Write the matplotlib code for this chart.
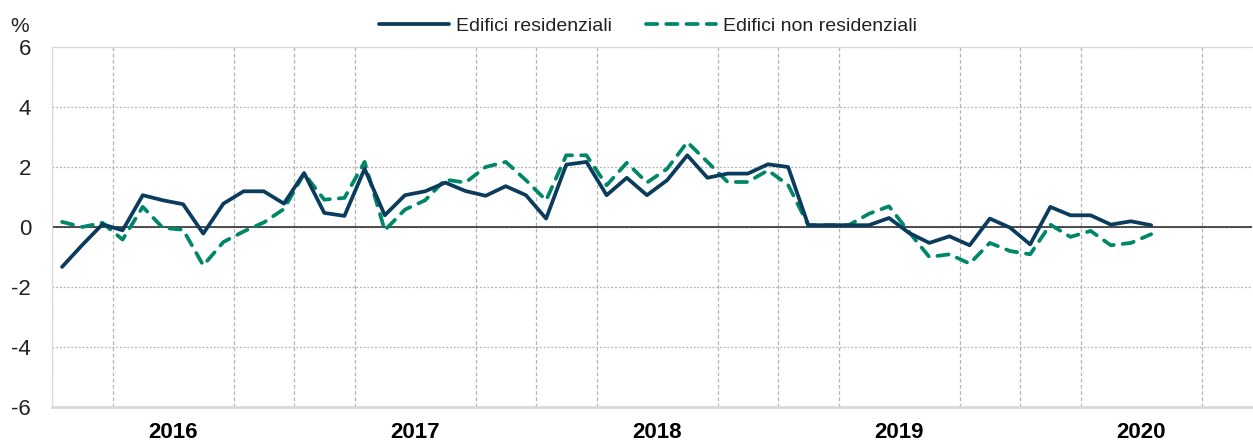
import matplotlib
matplotlib.use("Agg")
from matplotlib import pyplot as plt
from matplotlib.ticker import FixedLocator
import numpy as np

# monthly values, Jan 2016 .. Jul 2020
residenziali = [-1.33, -0.6, 0.09, -0.11, 1.06, 0.89, 0.76, -0.22, 0.78, 1.19, 1.19, 0.78,
                1.8, 0.47, 0.37, 1.94, 0.39, 1.06, 1.19, 1.48, 1.2, 1.04, 1.36, 1.06,
                0.28, 2.08, 2.17, 1.06, 1.64, 1.06, 1.56, 2.39, 1.64, 1.78, 1.78, 2.09,
                2.0, 0.06, 0.06, 0.06, 0.06, 0.3, -0.2, -0.53, -0.31, -0.61, 0.28, -0.02,
                -0.58, 0.67, 0.39, 0.39, 0.08, 0.19, 0.06]
non_residenziali = [0.17, 0.0, 0.14, -0.42, 0.67, -0.03, -0.09, -1.28, -0.5, -0.15, 0.15, 0.6,
                    1.78, 0.91, 0.97, 2.17, -0.11, 0.58, 0.89, 1.58, 1.48, 2.0, 2.17, 1.56,
                    0.89, 2.39, 2.39, 1.39, 2.14, 1.48, 1.94, 2.83, 2.17, 1.5, 1.5, 1.89,
                    1.4, 0.06, 0.06, 0.06, 0.44, 0.69, -0.17, -1.0, -0.91, -1.22, -0.53, -0.8,
                    -0.91, 0.08, -0.33, -0.13, -0.61, -0.53, -0.24]
years = ['2016', '2017', '2018', '2019', '2020']
yticks = [-6, -4, -2, 0, 2, 4, 6]

plt.rcParams['font.family'] = ['Liberation Sans', 'DejaVu Sans']

months = np.arange(len(residenziali))

fig = plt.figure(figsize=(12.53, 4.44), dpi=100)
ax = fig.add_axes([52 / 1253, 1 - 407 / 444, 1200 / 1253, 360 / 444])

# quarterly vertical grid, dotted horizontal grid
ax.xaxis.set_minor_locator(FixedLocator(np.arange(-0.5, 59, 3)))
ax.grid(which='minor', axis='x', color='#b4b4b4', lw=0.9, linestyle=(0, (3, 2)))
ax.grid(which='major', axis='y', color='#b4b4b4', lw=0.9, linestyle=(0, (1.5, 1.5)))
ax.grid(which='major', axis='x', visible=False)
ax.axhline(0, color='#202020', lw=1.1, zorder=2)

ax.plot(months, residenziali, color='#0b3c5d', lw=2.7, solid_capstyle='round',
        label='Edifici residenziali', zorder=4)
ax.plot(months, non_residenziali, color='#00876a', lw=2.7, dashes=(3.0, 2.4),
        dash_capstyle='round', label='Edifici non residenziali', zorder=3)

ax.set_xlim(-0.5, 59.0)
ax.set_ylim(-6, 6)
ax.set_yticks(yticks)
ax.set_yticklabels([str(v) for v in yticks])
ax.set_xticks([5.5 + 12 * k for k in range(len(years))])
ax.set_xticklabels(years, fontweight='bold')
ax.tick_params(axis='both', which='both', length=0)
ax.tick_params(axis='y', labelsize=16, pad=15, colors='#222222')
ax.tick_params(axis='x', labelsize=16, pad=11)

for side in ['left', 'top', 'bottom']:
    ax.spines[side].set_color('#d9d9d9')
ax.spines['bottom'].set_linewidth(2)
ax.spines['right'].set_visible(False)

fig.text(20 / 1253, 1 - 26 / 444, '%', fontsize=15, ha='center', va='center', color='#222222')

fig.legend(loc='center', bbox_to_anchor=(648 / 1253, 1 - 26 / 444), ncol=2, frameon=False,
           fontsize=14, handlelength=3.6, handletextpad=0.36, columnspacing=1.7,
           labelcolor='#222222')

fig.savefig('out.png', dpi=100)
